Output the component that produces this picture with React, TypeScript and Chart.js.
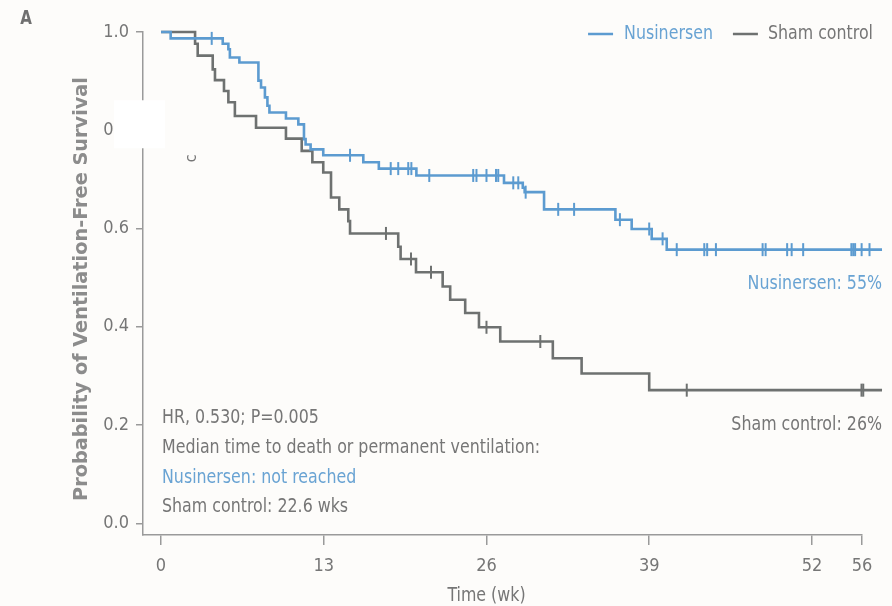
import React, { useEffect, useRef } from "react";
import { Chart, registerables } from "chart.js";

Chart.register(...registerables);

// ---------- data ----------
const seriesNames = ["Nusinersen", "Sham control"];

const xTickValues = [0, 13, 26, 39, 52, 56];
const yTickValues = [0, 0.2, 0.4, 0.6, 0.8, 1.0];

// Kaplan-Meier steps: week of each drop and survival after it (first = start, last = end of follow-up)
const nusEventWeeks = [0, 0.77, 4.93, 5.38, 5.5, 6.26, 7.78, 7.99, 8.3, 8.5, 8.66, 9.98, 10.97, 11.42, 11.55, 11.95, 12.96, 16.16, 17.4, 20.4, 27.4, 28.9, 29.05, 30.6, 36.3, 37.6, 39.2, 40.4, 57.6];
const nusSurvival = [1.0, 0.987, 0.976, 0.965, 0.948, 0.938, 0.901, 0.887, 0.867, 0.85, 0.836, 0.824, 0.812, 0.782, 0.771, 0.761, 0.749, 0.735, 0.722, 0.708, 0.693, 0.683, 0.674, 0.639, 0.618, 0.599, 0.579, 0.557, 0.557];
const nusCensorWeeks = [4.05, 15.1, 18.35, 18.95, 19.75, 20.0, 21.43, 24.94, 25.2, 26.0, 26.76, 26.94, 28.14, 28.54, 29.13, 31.73, 33.0, 36.66, 39.0, 40.07, 41.2, 43.4, 43.63, 44.33, 48.06, 48.3, 50.02, 50.38, 51.3, 55.15, 55.3, 55.45, 55.97, 56.6, 56.75, 56.9, 57.05, 57.2, 57.3];

const shamEventWeeks = [0, 2.72, 2.93, 4.13, 4.31, 5.03, 5.38, 5.9, 7.59, 9.98, 11.24, 12.09, 12.96, 13.58, 14.24, 14.96, 15.1, 18.95, 19.14, 20.37, 22.5, 23.1, 24.3, 25.4, 27.1, 31.3, 33.6, 39.0, 57.6];
const shamSurvival = [1.0, 0.976, 0.952, 0.924, 0.902, 0.88, 0.857, 0.829, 0.805, 0.783, 0.758, 0.735, 0.714, 0.663, 0.639, 0.615, 0.59, 0.563, 0.538, 0.511, 0.482, 0.455, 0.428, 0.399, 0.37, 0.336, 0.305, 0.271, 0.271];
const shamCensorWeeks = [17.97, 19.97, 21.57, 26.0, 30.3, 42.0, 55.96, 56.1, 56.25, 56.4, 56.8, 57.3];

const statsLines = [
  "HR, 0.530; P=0.005",
  "Median time to death or permanent ventilation:",
  "Nusinersen: not reached",
  "Sham control: 22.6 wks",
];
const endLabels = ["Nusinersen: 55%", "Sham control: 26%"];
const endValues = [0.557, 0.271];
const yTitle = "Probability of Ventilation-Free Survival";
const xTitle = "Time (wk)";

// ---------- styles ----------
const FONT = "'DejaVu Sans Condensed', 'Liberation Sans Narrow', sans-serif";
const TITLE_FONT = "'DejaVu Sans', sans-serif";
const BLUE = "#5c9bd0";
const GRAY = "#6e7170";
const TEXT = "#767676";
const BLUE_TEXT = "#69a3d3";
const AXIS = "#9a9a9a";
const BG = "#fdfcfa";
const SX = 0.88; // horizontal squeeze to mimic the narrow typeface

function stepPoints(weeks: number[], surv: number[]) {
  return weeks.map((w, i) => ({ x: w, y: surv[i] }));
}
function survivalAt(weeks: number[], surv: number[], t: number) {
  let s = surv[0];
  for (let i = 0; i < weeks.length; i++) if (weeks[i] <= t) s = surv[i];
  return s;
}
function censorPoints(cw: number[], weeks: number[], surv: number[]) {
  return cw.map((t) => ({ x: t, y: survivalAt(weeks, surv, t) }));
}

function drawText(ctx: CanvasRenderingContext2D, text: string, x: number, y: number, align: CanvasTextAlign) {
  ctx.save();
  ctx.translate(x, y);
  ctx.scale(SX, 1);
  ctx.textAlign = align;
  ctx.textBaseline = "middle";
  ctx.fillText(text, 0, 0);
  ctx.restore();
}

const overlayPlugin = {
  id: "overlay",
  afterDraw(chart: any) {
    const { ctx } = chart;
    const xs = chart.scales.x;
    const ys = chart.scales.y;
    ctx.save();

    // panel letter
    ctx.fillStyle = "#707070";
    ctx.font = `bold 19px ${FONT}`;
    drawText(ctx, "A", 26, 19, "center");

    // y title
    ctx.save();
    ctx.translate(82, 289);
    ctx.rotate(-Math.PI / 2);
    ctx.fillStyle = "#8c8c8c";
    ctx.font = `bold 19.3px ${TITLE_FONT}`;
    ctx.textAlign = "center";
    ctx.textBaseline = "middle";
    ctx.fillText(yTitle, 0, 0);
    ctx.restore();

    // white patch over the 0.8 tick label
    const p8 = ys.getPixelForValue(0.8);
    ctx.fillStyle = "#ffffff";
    ctx.fillRect(114, p8 - 30, 51, 48);
    ctx.save();
    ctx.translate(192, p8 + 28);
    ctx.rotate(-Math.PI / 2);
    ctx.fillStyle = TEXT;
    ctx.font = `16px ${FONT}`;
    ctx.textAlign = "center";
    ctx.textBaseline = "middle";
    ctx.fillText("c", 0, 0);
    ctx.restore();

    // stats text
    const x0 = xs.getPixelForValue(0) + 1;
    ctx.font = `20px ${FONT}`;
    statsLines.forEach((line, i) => {
      ctx.fillStyle = i === 2 ? BLUE_TEXT : TEXT;
      drawText(ctx, line, x0, 418 + i * 29.7, "left");
    });

    // end labels
    ctx.fillStyle = BLUE_TEXT;
    drawText(ctx, endLabels[0], 882, ys.getPixelForValue(endValues[0]) + 34, "right");
    ctx.fillStyle = TEXT;
    drawText(ctx, endLabels[1], 882, ys.getPixelForValue(endValues[1]) + 35, "right");

    // x title
    ctx.fillStyle = TEXT;
    drawText(ctx, xTitle, xs.getPixelForValue(26), 596, "center");

    // legend (right aligned)
    const ly = 34;
    const w2 = ctx.measureText(seriesNames[1]).width * SX;
    const w1 = ctx.measureText(seriesNames[0]).width * SX;
    const t2x = 873 - w2;
    const l2e = t2x - 10;
    const l2s = l2e - 25;
    const t1x = l2s - 20 - w1;
    const l1e = t1x - 11;
    const l1s = l1e - 25;
    ctx.lineWidth = 2.5;
    ctx.strokeStyle = BLUE;
    ctx.beginPath();
    ctx.moveTo(l1s, ly);
    ctx.lineTo(l1e, ly);
    ctx.stroke();
    ctx.fillStyle = BLUE_TEXT;
    drawText(ctx, seriesNames[0], t1x, ly, "left");
    ctx.strokeStyle = GRAY;
    ctx.beginPath();
    ctx.moveTo(l2s, ly);
    ctx.lineTo(l2e, ly);
    ctx.stroke();
    ctx.fillStyle = TEXT;
    drawText(ctx, seriesNames[1], t2x, ly, "left");

    ctx.restore();
  },
};

export default function App() {
  const canvasRef = useRef<HTMLCanvasElement | null>(null);

  useEffect(() => {
    if (!canvasRef.current) return;
    const chart = new Chart(canvasRef.current, {
      type: "line",
      data: {
        datasets: [
          {
            label: seriesNames[0],
            data: stepPoints(nusEventWeeks, nusSurvival),
            borderColor: BLUE,
            borderWidth: 2.6,
            stepped: true,
            pointRadius: 0,
            fill: false,
            clip: false,
            order: 1,
          },
          {
            label: seriesNames[0] + " censored",
            data: censorPoints(nusCensorWeeks, nusEventWeeks, nusSurvival),
            showLine: false,
            pointStyle: "line",
            pointRotation: 90,
            pointRadius: 6.5,
            pointBorderColor: BLUE,
            pointBorderWidth: 2,
            borderColor: BLUE,
            clip: false,
            order: 0,
          },
          {
            label: seriesNames[1],
            data: stepPoints(shamEventWeeks, shamSurvival),
            borderColor: GRAY,
            borderWidth: 2.6,
            stepped: true,
            pointRadius: 0,
            fill: false,
            clip: false,
            order: 3,
          },
          {
            label: seriesNames[1] + " censored",
            data: censorPoints(shamCensorWeeks, shamEventWeeks, shamSurvival),
            showLine: false,
            pointStyle: "line",
            pointRotation: 90,
            pointRadius: 6.5,
            pointBorderColor: GRAY,
            pointBorderWidth: 2,
            borderColor: GRAY,
            clip: false,
            order: 2,
          },
        ] as any,
      },
      options: {
        animation: false,
        responsive: false,
        devicePixelRatio: 1,
        events: [],
        layout: { padding: { top: 32, right: 30, left: 0, bottom: 0 } },
        plugins: {
          legend: { display: false },
          tooltip: { enabled: false },
        },
        scales: {
          x: {
            type: "linear",
            min: -1.44,
            max: 56,
            afterBuildTicks: (s: any) => {
              s.ticks = xTickValues.map((v) => ({ value: v }));
            },
            afterFit: (s: any) => {
              s.height = 71;
            },
            ticks: {
              autoSkip: false,
              maxRotation: 0,
              color: TEXT,
              padding: 11,
              font: { family: FONT, size: 18 },
              callback: (v: any) => String(v),
            },
            grid: {
              display: true,
              drawOnChartArea: false,
              drawTicks: true,
              tickLength: 10,
              color: AXIS,
              lineWidth: 1.5,
            },
            border: { display: true, color: AXIS, width: 1.5 },
          },
          y: {
            type: "linear",
            min: -0.0238,
            max: 1.0,
            afterBuildTicks: (s: any) => {
              s.ticks = yTickValues.map((v) => ({ value: v }));
            },
            afterFit: (s: any) => {
              s.width = 143;
            },
            ticks: {
              color: TEXT,
              padding: 7,
              font: { family: FONT, size: 18 },
              callback: (v: any) => Number(v).toFixed(1),
            },
            grid: {
              display: true,
              drawOnChartArea: false,
              drawTicks: true,
              tickLength: 7,
              color: AXIS,
              lineWidth: 1.5,
            },
            border: { display: true, color: AXIS, width: 1.5 },
            title: { display: false },
          },
        },
      } as any,
      plugins: [overlayPlugin],
    });
    return () => chart.destroy();
  }, []);

  return (
    <div style={{ position: "fixed", left: 0, top: 0, width: 892, height: 606, background: BG }}>
      <canvas ref={canvasRef} width={892} height={606} style={{ display: "block" }} />
    </div>
  );
}
